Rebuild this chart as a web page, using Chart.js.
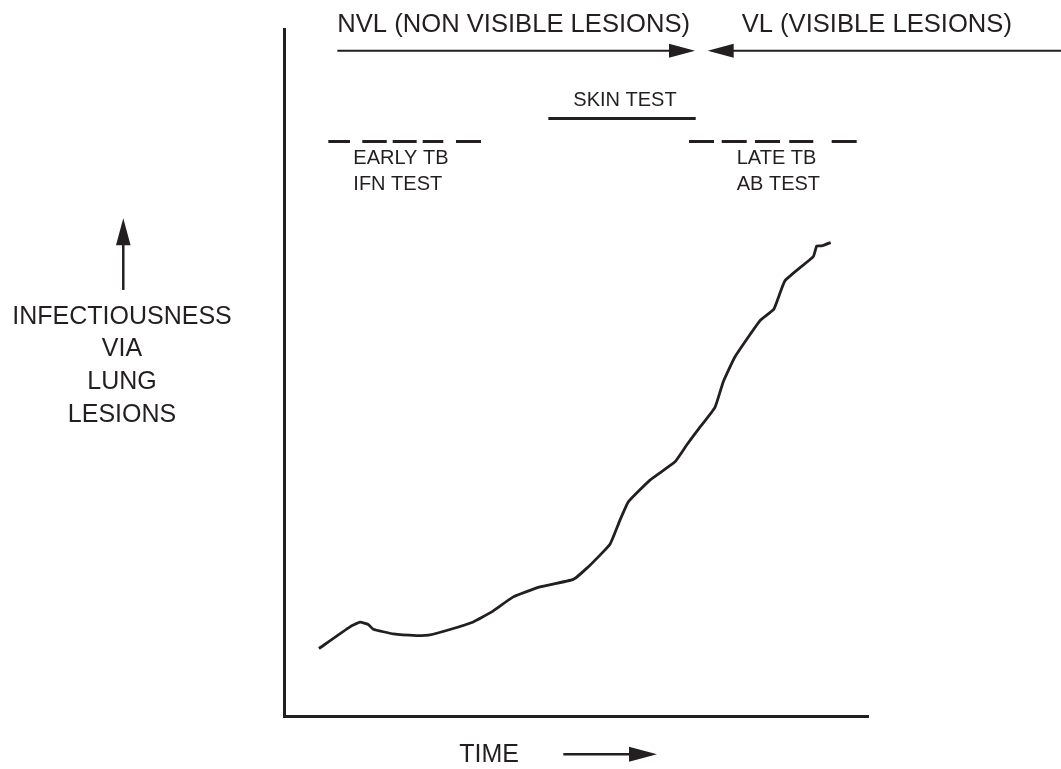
<!DOCTYPE html>
<html>
<head>
<meta charset="utf-8">
<script src="https://cdn.jsdelivr.net/npm/chart.js@4.4.1/dist/chart.umd.min.js"></script>
<style>
  html, body { margin: 0; padding: 0; background: #ffffff; }
  canvas { display: block; }
</style>
</head>
<body>
<canvas id="chart" width="1061" height="769"></canvas>
<script>
// ---- Data (time and infectiousness in arbitrary 0-100 units) ----
const timeValues = [5.99, 11.30, 13.01, 14.43, 15.29, 18.72, 22.72, 24.71, 28.42, 32.41,
  35.57, 39.26, 43.84, 49.54, 52.40, 55.82, 57.53, 58.96, 62.67, 66.95,
  68.95, 70.94, 73.80, 75.22, 77.23, 81.51, 83.90, 85.79, 90.63, 91.22,
  92.07, 93.61];
const infectiousness = [9.82, 12.97, 13.65, 13.32, 12.63, 11.95, 11.71, 11.76, 12.59, 13.69,
  15.15, 17.34, 18.79, 19.89, 21.95, 25.01, 28.51, 31.18, 34.34, 37.00,
  39.44, 41.72, 44.93, 48.66, 52.30, 57.55, 59.25, 63.37, 66.87, 68.43,
  68.43, 68.91];

// Test windows along the time axis (start, end of each dash)
const earlyTestSegments = [[7.59, 11.30], [13.41, 17.59], [18.61, 22.72], [23.75, 27.28], [29.45, 33.73]];
const lateTestSegments = [[69.35, 73.63], [74.95, 79.23], [80.65, 84.93], [86.52, 90.63], [93.78, 98.06]];
const skinTestSpan = [45.26, 70.50];
const dashLevel = 83.62;
const skinLevel = 86.98;

// Labels
const phaseLabels = ['NVL (NON VISIBLE LESIONS)', 'VL (VISIBLE LESIONS)'];
const earlyLabels = ['EARLY TB', 'IFN TEST'];
const lateLabels = ['LATE TB', 'AB TEST'];
const skinLabel = 'SKIN TEST';
const xTitle = 'TIME';
const yTitleLines = ['INFECTIOUSNESS', 'VIA', 'LUNG', 'LESIONS'];

// ---- Build datasets ----
function segmentsToPoints(segs, level) {
  const pts = [];
  segs.forEach((s, i) => {
    if (i > 0) pts.push({ x: (segs[i - 1][1] + s[0]) / 2, y: null });
    pts.push({ x: s[0], y: level }, { x: s[1], y: level });
  });
  return pts;
}

const INK = '#231f20';
const FONT = '"Liberation Sans", Arial, Helvetica, sans-serif';

const annotationPlugin = {
  id: 'annotations',
  afterDatasetsDraw(chart) {
    const ctx = chart.ctx;
    const xs = chart.scales.x, ys = chart.scales.y;
    const X = v => xs.getPixelForValue(v);
    const Y = v => ys.getPixelForValue(v);

    function arrow(x1, y1, x2, y2, len, half, width) {
      const px1 = X(x1), py1 = Y(y1), px2 = X(x2), py2 = Y(y2);
      const dx = px2 - px1, dy = py2 - py1;
      const d = Math.hypot(dx, dy);
      const ux = dx / d, uy = dy / d;
      const bx = px2 - ux * len, by = py2 - uy * len;
      ctx.save();
      ctx.strokeStyle = INK; ctx.fillStyle = INK; ctx.lineWidth = width;
      ctx.beginPath(); ctx.moveTo(px1, py1); ctx.lineTo(bx + ux, by + uy); ctx.stroke();
      ctx.beginPath();
      ctx.moveTo(px2, py2);
      ctx.lineTo(bx - uy * half, by + ux * half);
      ctx.lineTo(bx + uy * half, by - ux * half);
      ctx.closePath(); ctx.fill();
      ctx.restore();
    }
    function text(t, x, y, size, align) {
      ctx.save();
      ctx.fillStyle = INK;
      ctx.font = size + 'px ' + FONT;
      ctx.textAlign = align || 'left';
      ctx.textBaseline = 'alphabetic';
      ctx.fillText(t, X(x), Y(y));
      ctx.restore();
    }

    // Phase arrows across the top
    arrow(9.13, 96.84, 70.38, 96.84, 26, 7, 2);
    arrow(133.05, 96.84, 72.55, 96.84, 26, 7, 2);
    text(phaseLabels[0], 9.13, 99.61, 25.6);
    text(phaseLabels[1], 78.37, 99.61, 25.6);

    // Test labels
    text(skinLabel, 49.54, 88.72, 20);
    text(earlyLabels[0], 11.87, 80.37, 20);
    text(earlyLabels[1], 11.87, 76.59, 20);
    text(lateLabels[0], 77.52, 80.37, 20);
    text(lateLabels[1], 77.52, 76.59, 20);

    // Axis titles with arrows
    text(xTitle, 30.02, -6.70, 25);
    arrow(47.83, -5.58, 63.87, -5.58, 28, 7.5, 2.5);
    const yLineLevels = [57.07, 52.33, 47.60, 42.86];
    yTitleLines.forEach((t, i) => text(t, -27.74, yLineLevels[i], 25, 'center'));
    arrow(-27.52, 62.02, -27.52, 72.47, 27, 7.3, 2.5);
  }
};

new Chart(document.getElementById('chart'), {
  type: 'line',
  data: {
    datasets: [
      {
        label: 'Infectiousness',
        data: timeValues.map((t, i) => ({ x: t, y: infectiousness[i] })),
        borderColor: INK, borderWidth: 2.8, pointRadius: 0, tension: 0.12, fill: false
      },
      {
        label: 'Early TB / IFN test',
        data: segmentsToPoints(earlyTestSegments, dashLevel),
        borderColor: INK, borderWidth: 3, pointRadius: 0, spanGaps: false, borderCapStyle: 'butt'
      },
      {
        label: 'Late TB / AB test',
        data: segmentsToPoints(lateTestSegments, dashLevel),
        borderColor: INK, borderWidth: 3, pointRadius: 0, spanGaps: false, borderCapStyle: 'butt'
      },
      {
        label: 'Skin test',
        data: [{ x: skinTestSpan[0], y: skinLevel }, { x: skinTestSpan[1], y: skinLevel }],
        borderColor: INK, borderWidth: 3, pointRadius: 0
      }
    ]
  },
  options: {
    responsive: false,
    animation: false,
    events: [],
    layout: { padding: { left: 284, top: 29, right: 193, bottom: 53 } },
    plugins: { legend: { display: false }, tooltip: { enabled: false } },
    scales: {
      x: {
        type: 'linear', min: 0, max: 100,
        ticks: { display: false },
        grid: { display: false, drawTicks: false },
        border: { display: true, color: INK, width: 3 },
        afterFit: s => { s.height = 0; }
      },
      y: {
        type: 'linear', min: 0, max: 100,
        ticks: { display: false },
        grid: { display: false, drawTicks: false },
        border: { display: true, color: INK, width: 3 },
        afterFit: s => { s.width = 0; }
      }
    }
  },
  plugins: [annotationPlugin]
});
</script>
</body>
</html>
